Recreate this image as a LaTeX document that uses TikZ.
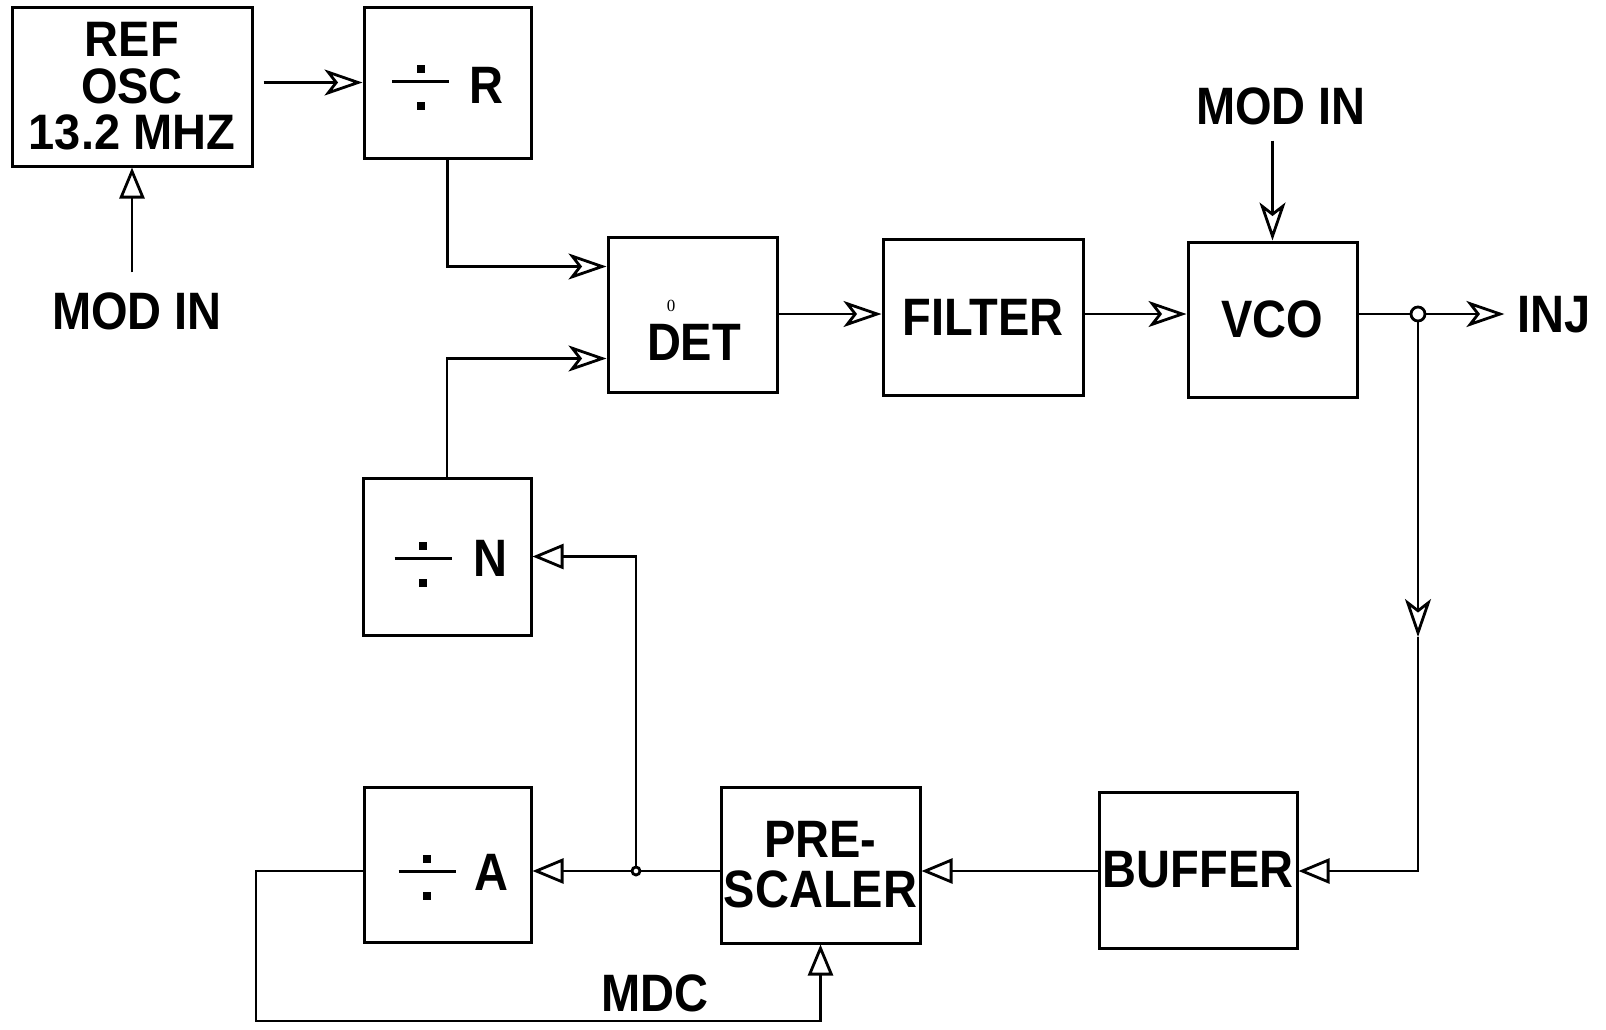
\documentclass[tikz,border=0pt]{standalone}
\usepackage{fontspec}
\setmainfont{Liberation Sans}
\newfontfamily\zerofont{Liberation Serif}
\usetikzlibrary{arrows.meta}
\newcommand{\stx}[1]{\scalebox{1}[1.12]{#1}}
\newcommand{\stxr}[1]{\scalebox{1}[1.06]{#1}}
\begin{document}
\begin{tikzpicture}[x=1pt,y=-1pt,
  box/.style={draw, line width=3pt, inner sep=0pt, align=center,
    font=\bfseries\fontsize{47}{46.5}\selectfont},
  lbl/.style={inner sep=0pt, font=\bfseries\fontsize{47}{46.5}\selectfont},
  conn/.style={line width=2.8pt},
  notch/.style={-{Stealth[open, length=38pt, width=26pt, inset=10pt]}},
  tri/.style={-{Triangle[open, length=31pt, width=25pt]}},
  divsign/.pic={
    \draw[line width=3pt] (-28.5,0) -- (28.5,0);
    \fill (-4,-16) rectangle (4,-8);
    \fill (-4,21) rectangle (4,29);
  }]
\useasboundingbox (0,0) rectangle (1606,1029);

% boxes
\node[box, minimum width=240pt, minimum height=159pt] (ref) at (132,86.5)
  {\stxr{REF}\\\stxr{OSC}\\\stxr{13.2 MHZ}};
\node[box, minimum width=167pt, minimum height=151pt] (divR) at (447.5,82.5) {};
\node[box, minimum width=169pt, minimum height=155pt] (det) at (692.5,314.5) {};
\node[box, minimum width=200pt, minimum height=156pt] (filter) at (983,317) {\stx{FILTER}};
\node[box, minimum width=169pt, minimum height=155pt] (vco) at (1272.5,319.5) {\stx{VCO}};
\node[box, minimum width=168pt, minimum height=157pt] (divN) at (447,556.5) {};
\node[box, minimum width=167pt, minimum height=155pt] (divA) at (447.5,864.5) {};
\node[box, minimum width=199pt, minimum height=156pt, font=\bfseries\fontsize{47}{50}\selectfont] (pre) at (820.5,865) {\stx{PRE-}\\\stx{SCALER}};
\node[box, minimum width=198pt, minimum height=156pt] (buffer) at (1198,870) {\stx{BUFFER}};

% box contents
\pic at (420.5,81) {divsign};
\node[lbl] (tR) at (486,85) {\stx{R}};
\pic at (423,558) {divsign};
\node[lbl] (tN) at (490,558) {\stx{N}};
\pic at (427,871) {divsign};
\node[lbl] (tA) at (491,872) {\stx{A}};
\node[inner sep=0pt, font=\zerofont\fontsize{17}{17}\selectfont] (zero) at (671,306) {0};
\node[lbl] (tDET) at (694,342) {\stx{DET}};

% free labels
\node[lbl, outer sep=20pt] (modL) at (137,311) {\stx{MOD IN}};
\node[lbl, outer sep=16pt] (modT) at (1281,106) {\stx{MOD IN}};
\node[lbl, outer sep=13pt] (inj) at (1554,315) {\stx{INJ}};
\node[lbl] (mdc) at (655,993) {\stx{MDC}};

% coordinates
\path (det.north west) ++(0,31) coordinate (dU);
\path (det.north west) ++(0,123) coordinate (dL);
\coordinate (J) at (1418,314);
\coordinate (M) at (1418,637);
\coordinate (K) at (636,871);
\coordinate (L1) at (256,871);
\coordinate (L2) at (256,1021);

% connectors
\draw[conn,notch,shorten <=10pt] (ref.east |- divR.west) -- (divR.west);
\draw[conn,tri] (modL.north -| ref.south) -- (ref.south);
\draw[conn,notch] (divR.south) |- (dU);
\draw[conn,notch] (divN.north) |- (dL);
\draw[conn,notch] (det.east |- J) -- (filter.west |- J);
\draw[conn,notch] (filter.east |- J) -- (vco.west |- J);
\draw[conn,notch] (modT.south -| vco.north) -- (vco.north);
\draw[conn,notch] (vco.east |- J) -- (inj.west |- J);
\draw[conn,notch] (J) -- (M);
\draw[conn,tri] (M) |- (buffer.east |- K);
\draw[conn,tri] (buffer.west |- K) -- (pre.east |- K);
\draw[conn,tri] (pre.west |- K) -- (divA.east |- K);
\draw[conn,tri] (K) |- (divN.east);
\draw[conn,tri] (divA.west |- K) -- (L1) -- (L2) -| (pre.south);
\draw[conn, fill=white] (J) circle (7);
\draw[conn, fill=white] (K) circle (4);
\end{tikzpicture}
\end{document}
